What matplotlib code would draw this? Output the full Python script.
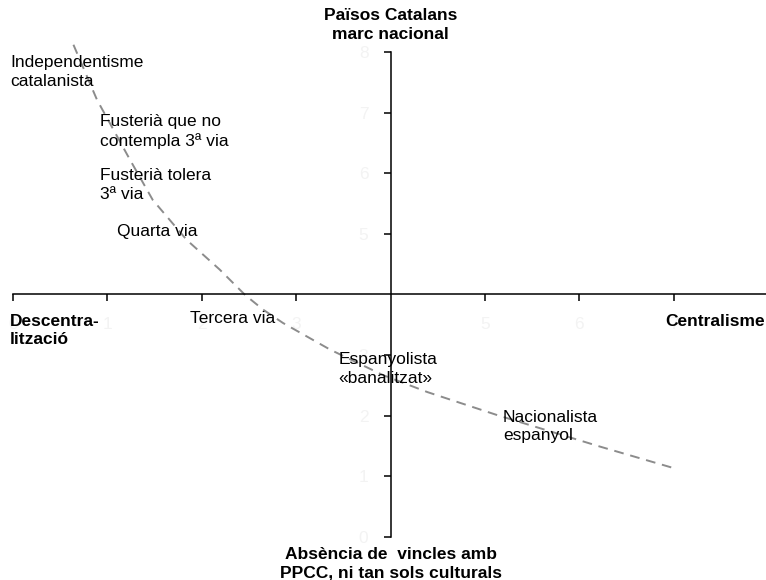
import matplotlib.pyplot as plt

plt.rcParams['font.family'] = ['Liberation Sans', 'DejaVu Sans']

# dashed curve
curve_x = [0.64, 0.89, 1.24, 1.48, 1.84, 2.19, 2.46, 2.65, 2.86, 3.36, 3.92, 4.39, 5.13, 6.22, 6.99]
curve_y = [8.12, 7.21, 6.22, 5.56, 4.90, 4.41, 3.99, 3.75, 3.53, 3.09, 2.67, 2.39, 2.01, 1.49, 1.14]

xticks = [0, 1, 2, 3, 5, 6, 7]
yticks = [0, 1, 2, 3, 5, 6, 7, 8]

# position labels: (text, x, y) in data units
labels = [
    ("Independentisme\ncatalanista", -0.03, 7.95),
    ("Fusterià que no\ncontempla 3ª via", 0.92, 6.97),
    ("Fusterià tolera\n3ª via", 0.92, 6.08),
    ("Quarta via", 1.1, 5.17),
    ("Tercera via", 1.87, 3.72),
    ("Espanyolista\n«banalitzat»", 3.45, 3.05),
    ("Nacionalista\nespanyol", 5.19, 2.1),
]

fig = plt.figure(figsize=(7.66, 5.8), dpi=100)
ax = fig.add_axes([0, 0, 1, 1])
ax.set_xlim(-0.138, 7.977)
ax.set_ylim(-0.71, 8.858)

ax.plot(curve_x, curve_y, color='#8c8c8c', linestyle=(0, (5, 3.5)), linewidth=1.4)

for s in ['top', 'right']:
    ax.spines[s].set_visible(False)
ax.spines['left'].set_position(('data', 4))
ax.spines['bottom'].set_position(('data', 4))
ax.spines['left'].set_bounds(0, 8)
ax.spines['bottom'].set_bounds(0, 8)
for s in ['left', 'bottom']:
    ax.spines[s].set_linewidth(1.1)
    ax.spines[s].set_color('black')

ax.set_xticks(xticks)
ax.set_yticks(yticks)
ax.set_xticklabels([str(t) for t in xticks])
ax.set_yticklabels([str(t) for t in yticks])
ax.tick_params(axis='x', direction='out', length=5, width=1.1, pad=11,
               labelsize=12.5, labelcolor='#f3f3f3')
ax.tick_params(axis='y', direction='out', length=5, width=1.1, pad=11,
               labelsize=12.5, labelcolor='#f3f3f3')

for txt, x, y in labels:
    ax.text(x, y, txt, fontsize=12.5, ha='left', va='top', linespacing=1.3)

ax.text(4, 8.72, "Països Catalans\nmarc nacional", fontsize=12.5, fontweight='bold',
        ha='center', va='top', linespacing=1.3)
ax.text(4, -0.17, "Absència de  vincles amb\nPPCC, ni tan sols culturals", fontsize=12.5,
        fontweight='bold', ha='center', va='top', linespacing=1.3)
ax.text(-0.03, 3.68, "Descentra-\nlització", fontsize=12.5, fontweight='bold',
        ha='left', va='top', linespacing=1.3)
ax.text(7.96, 3.68, "Centralisme", fontsize=12.5, fontweight='bold',
        ha='right', va='top')

fig.savefig('out.png', dpi=100)
